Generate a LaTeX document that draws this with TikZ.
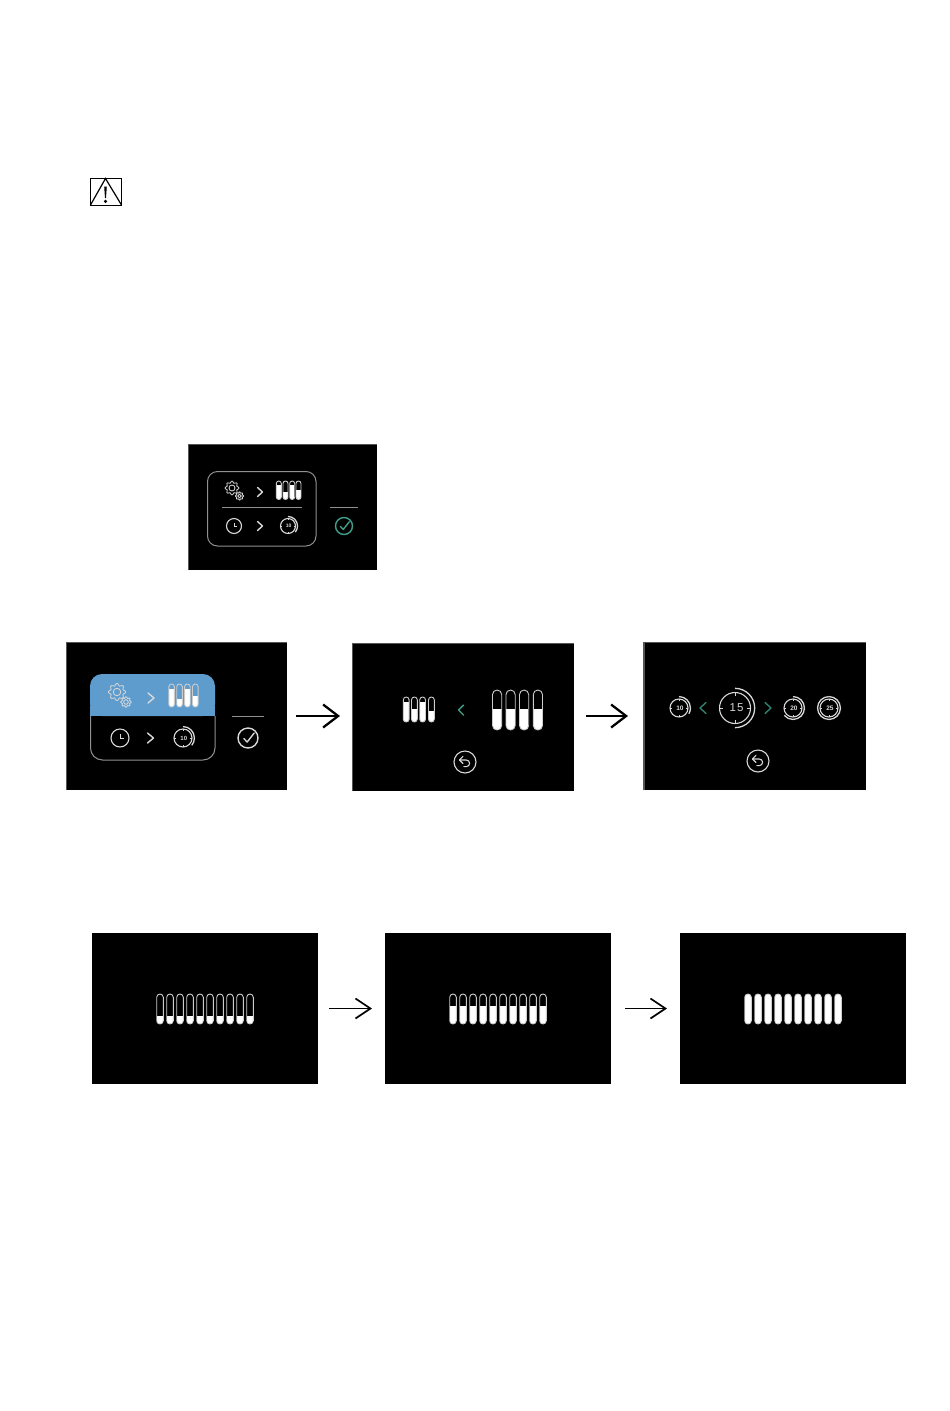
\documentclass[tikz,border=0pt]{standalone}
\usepackage{fontspec}
\setmainfont{Liberation Sans}
\usetikzlibrary{arrows.meta}
\definecolor{teal1}{HTML}{3F9F8C}
\definecolor{teal2}{HTML}{2F7F72}
\definecolor{blue1}{HTML}{5E9CCE}
\definecolor{ico}{HTML}{D8D8D8}
\definecolor{frame}{HTML}{909090}
\definecolor{edge}{HTML}{555555}
\tikzset{
  screen/.style={fill=black,draw=none,inner sep=0pt,outer sep=0pt},
  flow/.style={black,line width=2.1pt,-{Straight Barb[length=15pt,width=23pt,line width=2.3pt]}},
  flowthin/.style={black,line width=1.5pt,-{Straight Barb[length=15pt,width=20pt,line width=1.7pt]}},
  icon/.style={ico,line width=1.1pt},
  rule/.style={frame,line width=1pt},
  chevron/.style={line width=1.4pt,line cap=round,line join=round},
  num/.style={text=ico,inner sep=0pt,font=\bfseries}
}
% #1 x, #2 width, #3 top, #4 bottom, #5 fill start
\newcommand\sld[5]{%
  \begin{scope}
    \clip[rounded corners=#2/2-0.01] (#1,#3) rectangle ++(#2,#4-#3);
    \fill[white] (#1,#5) rectangle ++(#2,#4-#5);
  \end{scope}
  \draw[white!80!black,line width=0.9pt,rounded corners=#2/2-0.01] (#1,#3) rectangle ++(#2,#4-#3);
}
\newcommand\chev[5]{\draw[chevron,#5] (#1-#4,#2-#3) -- (#1+#4,#2) -- (#1-#4,#2+#3);}
\newcommand\chevl[5]{\draw[chevron,#5] (#1+#4,#2-#3) -- (#1-#4,#2) -- (#1+#4,#2+#3);}
\newcommand\gearicon[3]{%
  \draw[icon,line width=0.85pt,shift={(#1,#2)}] plot[domain=0:360,samples=73,smooth] (\x:{#3*(1+.14*cos(8*\x))}) -- cycle;
  \draw[icon,line width=0.85pt] (#1,#2) circle[radius=#3*0.5];
}
\newcommand\clockicon[3]{%
  \draw[icon] (#1,#2) circle[radius=#3];
  \draw[icon,line width=.8pt] (#1,#2-#3*.4) -- (#1,#2) -- (#1+#3*.4,#2);
}
\newcommand\checkicon[4]{%
  \draw[#4,line width=1.4pt] (#1,#2) circle[radius=#3];
  \draw[#4,line width=1.4pt,line cap=round,line join=round] (#1-#3*.42,#2+#3*.05) -- (#1-#3*.08,#2+#3*.4) -- (#1+#3*.62,#2-#3*.5);
}
% #1 x #2 y #3 r #4 text #5 arc end #6 font size
\newcommand\timericon[7][\bfseries]{%
  \begin{scope}[shift={(#2,#3)}]
    \draw[icon] (0,0) circle[radius=#4];
    \draw[icon,line width=1.3pt] (-90:#4*1.27) arc[start angle=-90,end angle=#6,radius=#4*1.27];
    \foreach \a in {0,90,180,270}
      \draw[icon,line width=.7pt] (\a:#4*.98) -- (\a:#4*.76);
    \node[num] at (0,0) {\fontsize{#7}{#7}\selectfont #1 #5};
  \end{scope}
}
\newcommand\backicon[3]{%
  \begin{scope}[shift={(#1,#2)}]
    \draw[icon] (0,0) circle[radius=#3];
    \draw[icon,line cap=round,line join=round] (-#3*.5,-#3*.18) -- (#3*.12,-#3*.18) arc[start angle=-90,end angle=90,radius=#3*.3] -- (-#3*.1,#3*.42);
    \draw[icon,line cap=round,line join=round] (-#3*.18,-#3*.52) -- (-#3*.5,-#3*.18) -- (-#3*.18,#3*.14);
  \end{scope}
}
\begin{document}
\begin{tikzpicture}[x=1pt,y=-1pt]
\useasboundingbox (0,0) rectangle (950,1411);
\fill[white] (0,0) rectangle (950,1411);

% warning sign
\draw[black,line width=.9pt] (90,178.5) rectangle (121.5,205);
\draw[black,line width=1.2pt,line join=miter] (90.5,205) -- (105.5,178.5) -- (121.5,205);
\fill[black] (104.2,186.5) -- (106.8,186.5) -- (106,198) -- (105,198) -- cycle;
\fill[black] (105.5,201.3) circle[radius=1.7];

% screens
\node[screen,minimum width=189pt,minimum height=126pt] (s0) at (282.5,507) {};
\node[screen,minimum width=221pt,minimum height=148pt] (a) at (176.5,716) {};
\node[screen,minimum width=222pt,minimum height=148pt] (b) at (463,717) {};
\node[screen,minimum width=222pt,minimum height=148pt] (c) at (755,716) {};
\node[screen,minimum width=226pt,minimum height=151pt] (d) at (205,1008.5) {};
\node[screen,minimum width=226pt,minimum height=151pt] (e) at (498,1008.5) {};
\node[screen,minimum width=226pt,minimum height=151pt] (f) at (793,1008.5) {};

% screen edges
\draw[edge,line width=.8pt] (s0.south west) -- (s0.north west) -- (s0.north east);
\draw[edge,line width=.8pt] (a.south west) -- (a.north west) -- (a.north east);
\draw[edge,line width=.8pt] (b.south west) -- (b.north west) -- (b.north east);
\draw[edge,line width=1.4pt] (c.south west) -- (c.north west);
\draw[edge,line width=.8pt] (c.north west) -- (c.north east);

% connectors
\draw[flow] ([xshift=9pt]a.east) -- ([xshift=-12pt,yshift=1pt]b.west);
\draw[flow] ([xshift=12pt,yshift=1pt]b.east) -- ([xshift=-16pt]c.west);
\draw[flowthin] ([xshift=11pt]d.east) -- ([xshift=-13pt]e.west);
\draw[flowthin] ([xshift=14pt]e.east) -- ([xshift=-13pt]f.west);

% screen 0
\draw[rule,rounded corners=10pt] (207.5,471.5) rectangle (316,546);
\draw[rule] (222,507) -- (302,507);
\draw[rule] (330,507) -- (358,507);
\gearicon{232}{488}{6}
\gearicon{239.5}{496}{3.6}
\chev{260}{492}{4.5}{2.5}{ico}
\sld{276.3}{5}{481}{499.5}{485}
\sld{283}{5}{481}{499.5}{492}
\sld{289.7}{5}{481}{499.5}{485}
\sld{296}{5}{481}{499.5}{490}
\clockicon{234}{526}{7.5}
\chev{260}{526}{4.5}{2.5}{ico}
\timericon{288}{526}{7.5}{10}{40}{5}
\checkicon{344}{526}{8.5}{teal1}

% screen A
\fill[blue1,rounded corners=12pt] (90,716) -- (90,674) -- (215,674) -- (215,716) -- cycle;
\fill[blue1] (90,706) rectangle (215,716);
\draw[rule,rounded corners=12pt] (90.5,716) -- (90.5,760) -- (215,760) -- (215,716);
\draw[rule] (232,716) -- (264,716);
\gearicon{117}{692}{7.5}
\gearicon{126}{702}{4.6}
\chev{151}{698}{5}{3}{ico}
\sld{168.8}{5.6}{684}{707}{689}
\sld{176.7}{5.6}{684}{707}{699}
\sld{184.6}{5.6}{684}{707}{689}
\sld{192.5}{5.6}{684}{707}{696}
\clockicon{120}{738}{9}
\chev{150.5}{738}{5}{3}{ico}
\timericon{183}{738}{9}{10}{40}{6}
\checkicon{248}{738}{10}{ico}

% screen B
\sld{403.3}{5.8}{697}{722}{702}
\sld{411.5}{5.8}{697}{722}{709}
\sld{419.7}{5.8}{697}{722}{702}
\sld{428.5}{5.8}{697}{722}{711}
\chevl{461}{710}{5}{2.5}{teal1}
\sld{492.5}{9.2}{690}{730}{709}
\sld{506}{9.2}{690}{730}{709}
\sld{519.5}{9.2}{690}{730}{709}
\sld{533.3}{9.2}{690}{730}{709}
\backicon{465}{762}{11}

% screen C
\timericon{679}{708}{9}{10}{30}{6.5}
\chevl{703}{708}{5.5}{3}{teal2}
\timericon[\mdseries]{735}{708}{15.5}{1\kern1pt 5}{90}{11.5}
\chev{768}{708}{5.5}{3}{teal2}
\timericon{793}{708}{9}{20}{140}{6.5}
\timericon{829}{708}{9}{25}{269}{6.5}
\backicon{758}{761}{11}

% screens D, E, F
\foreach \i in {0,...,9}{
  \pgfmathsetmacro{\xa}{156+10*\i+0.7}
  \sld{\xa}{6.6}{994}{1024}{1016}
  \pgfmathsetmacro{\xb}{449+10*\i+0.7}
  \sld{\xb}{6.6}{994}{1024}{1006}
  \pgfmathsetmacro{\xc}{744+10*\i+0.7}
  \sld{\xc}{6.6}{994}{1024}{994}
}
\end{tikzpicture}
\end{document}
